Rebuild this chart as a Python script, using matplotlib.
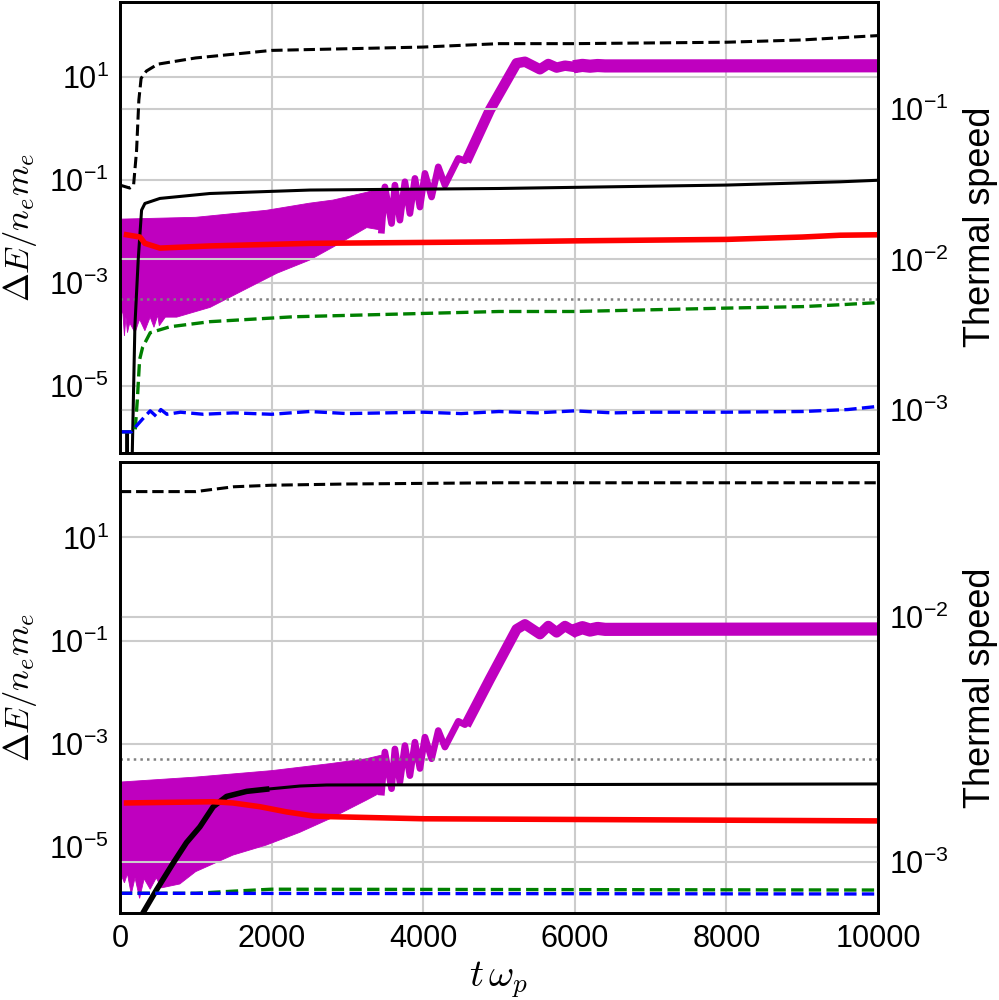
import matplotlib
matplotlib.use("Agg")
import matplotlib.pyplot as plt
from matplotlib.ticker import NullLocator, FixedLocator

# ---------------- top panel ----------------
# field energy (left axis): early oscillation band, drawn as a filled envelope
top_env_up_t = [0, 1000, 1935, 2500, 2810, 3255, 3451]
top_env_up_v = [0.0175, 0.019, 0.026, 0.0357, 0.041, 0.058, 0.070]
top_env_lo_t = [0, 40, 60, 80, 100, 130, 200, 260, 330, 400, 450, 500, 520, 600,
                750, 1190, 1630, 2070, 2500, 2810, 3255, 3451]
top_env_lo_v = [3.0e-4, 2.6e-4, 9.5e-5, 2.2e-4, 1.1e-4, 1.7e-4, 1.1e-4, 2.0e-4, 1.2e-4,
                2.2e-4, 1.4e-4, 2.4e-4, 1.5e-4, 2.2e-4, 2.2e-4, 3.4e-4, 7.3e-4, 1.56e-3,
                2.8e-3, 5.0e-3, 0.012, 0.0107]
# field energy: resolved oscillations, growth and saturation
top_mag_t = [3451, 3495, 3583, 3627, 3693, 3759, 3825, 3891, 3957, 4023, 4111, 4199,
             4287, 4463, 4551, 4595, 4880, 5232, 5342, 5540, 5650, 5760, 5870, 5980]
top_mag_v = [0.0107, 0.074, 0.0144, 0.080, 0.0167, 0.093, 0.0225, 0.108, 0.030, 0.135,
             0.047, 0.181, 0.080, 0.264, 0.237, 0.283, 2.29, 18.5, 19.8, 14.1, 17.9,
             15.2, 16.6, 15.8]
top_sat_t = [5980, 6100, 6200, 6300, 6400, 10000]
top_sat_v = [15.8, 16.8, 16.2, 16.7, 16.4, 16.5]

# thermal speeds (right axis)
top_kd_t = [0, 130, 180, 220, 250, 280, 350, 500, 1000, 2000, 4000, 5000, 6000, 8000,
            9000, 9500, 10000]
top_kd_v = [0.0313, 0.0299, 0.031, 0.053, 0.115, 0.161, 0.18, 0.20, 0.22, 0.247, 0.26,
            0.274, 0.274, 0.28, 0.29, 0.30, 0.31]
top_ks_t = [0, 80, 95, 110, 154, 198, 242, 286, 330, 528, 1187, 2506, 5000, 8000, 9500,
            10000]
top_ks_v = [1e-4, 1e-4, 7e-4, 1e-4, 3e-4, 3.6e-3, 0.010, 0.0213, 0.0236, 0.0255, 0.0275,
            0.029, 0.0297, 0.0313, 0.0329, 0.0337]
top_red_t = [88, 264, 330, 528, 1187, 2506, 5000, 6000, 8000, 9000, 9500, 10000]
top_red_v = [0.0146, 0.0141, 0.0128, 0.0119, 0.0123, 0.0128, 0.0131, 0.0133, 0.0136,
             0.0141, 0.0145, 0.0146]
top_grn_t = [0, 200, 230, 260, 300, 400, 660, 1190, 2290, 5000, 6000, 8000, 9000, 9500,
             10000]
top_grn_v = [7.1e-4, 7.1e-4, 1.16e-3, 2.15e-3, 2.6e-3, 3.25e-3, 3.56e-3, 3.85e-3,
             4.15e-3, 4.5e-3, 4.5e-3, 4.74e-3, 4.85e-3, 4.99e-3, 5.16e-3]
top_blu_t = [0, 150, 230, 330, 400, 480, 540, 620, 800, 1100, 1500, 2000, 2500, 3000,
             4000, 4500, 5000, 5500, 6000, 6500, 7000, 8000, 9000, 9600, 10000]
top_blu_v = [7.1e-4, 7.1e-4, 7.9e-4, 9.0e-4, 9.8e-4, 9.0e-4, 1.0e-3, 9.3e-4, 9.6e-4,
             9.3e-4, 9.5e-4, 9.3e-4, 9.7e-4, 9.4e-4, 9.6e-4, 9.4e-4, 9.7e-4, 9.5e-4,
             9.8e-4, 9.5e-4, 9.6e-4, 9.6e-4, 9.7e-4, 1.0e-3, 1.05e-3]

# ---------------- bottom panel ----------------
bot_env_up_t = [0, 1000, 2000, 2770, 3250, 3451]
bot_env_up_v = [1.8e-4, 2.25e-4, 3.0e-4, 4.1e-4, 5.1e-4, 6.0e-4]
bot_env_lo_t = [0, 60, 100, 150, 200, 260, 320, 400, 480, 550, 790, 1000, 1490, 1930,
                2370, 2770, 3250, 3451]
bot_env_lo_v = [3.3e-6, 2.0e-6, 3.0e-6, 1.2e-6, 2.5e-6, 1.0e-6, 2.4e-6, 1.5e-6, 2.5e-6,
                1.6e-6, 1.9e-6, 3.3e-6, 6.9e-6, 1.08e-5, 1.9e-5, 3.5e-5, 8.0e-5, 1.15e-4]
bot_mag_t = [3451, 3495, 3583, 3627, 3693, 3759, 3825, 3891, 3957, 4023, 4111, 4199,
             4287, 4463, 4551, 4595, 4880, 5232, 5342, 5540, 5650, 5760, 5870, 5980]
bot_mag_v = [1.15e-4, 6.9e-4, 1.34e-4, 7.9e-4, 1.8e-4, 9.2e-4, 2.4e-4, 1.07e-3, 3.3e-4,
             1.34e-3, 5.1e-4, 1.8e-3, 8.6e-4, 2.72e-3, 2.34e-3, 2.8e-3, 0.0179, 0.166,
             0.207, 0.133, 0.192, 0.144, 0.192, 0.154]
bot_sat_t = [5980, 6100, 6200, 6300, 6400, 10000]
bot_sat_v = [0.154, 0.178, 0.160, 0.172, 0.165, 0.168]

bot_kd_t = [0, 1000, 1200, 1500, 2000, 3000, 5000, 10000]
bot_kd_v = [0.0324, 0.0324, 0.0330, 0.0339, 0.0344, 0.0348, 0.0352, 0.0352]
bot_ks_t = [0, 305, 484, 703, 879, 1055, 1231, 1407, 1671, 1935, 2375, 2726, 10000]
bot_ks_v = [3e-4, 6.2e-4, 7.7e-4, 9.9e-4, 1.2e-3, 1.39e-3, 1.68e-3, 1.85e-3, 1.94e-3,
            1.98e-3, 2.04e-3, 2.06e-3, 2.08e-3]
bot_red_t = [88, 1231, 1490, 1846, 2198, 2550, 2770, 4000, 10000]
bot_red_v = [1.74e-3, 1.76e-3, 1.74e-3, 1.68e-3, 1.60e-3, 1.54e-3, 1.53e-3, 1.50e-3,
             1.47e-3]
bot_grn_t = [0, 1000, 1500, 2000, 10000]
bot_grn_v = [7.45e-4, 7.45e-4, 7.6e-4, 7.74e-4, 7.68e-4]
bot_blu_t = [0, 10000]
bot_blu_v = [7.45e-4, 7.4e-4]

threshold = 5e-4
x_ticks = [0, 2000, 4000, 6000, 8000, 10000]

plt.rcParams["font.family"] = ["Liberation Sans", "DejaVu Sans"]

fig, (ax1, ax3) = plt.subplots(2, 1, figsize=(9.99, 10), dpi=100, sharex=True)
fig.subplots_adjust(left=0.120, right=0.879, top=0.998, bottom=0.087, hspace=0.022)

GRID = "#cccccc"


def style(ax):
    ax.set_yscale("log")
    ax.yaxis.set_minor_locator(NullLocator())
    ax.tick_params(length=0, labelsize=22, pad=8)
    for s in ax.spines.values():
        s.set_linewidth(2.0)
        s.set_color("black")


def panel(ax, up_t, up_v, lo_t, lo_v, mag_t, mag_v, sat_t, sat_v,
          kd, ks, red, grn, blu, ks_thick, rlim, rticks):
    style(ax)
    ax.grid(True, color=GRID, lw=1.5)
    ax.set_axisbelow(True)
    ax.fill(up_t + lo_t[::-1], up_v + lo_v[::-1], color="m", lw=0.6, ec="m")
    ax.plot(mag_t, mag_v, color="m", lw=4.8, solid_joinstyle="round")
    # growth phase and first bounces look thicker (fast oscillation under the line)
    ax.plot(mag_t[15:], mag_v[15:], color="m", lw=7.5, solid_joinstyle="round")
    ax.plot(sat_t, sat_v, color="m", lw=9.5, solid_capstyle="butt")
    ax.axhline(threshold, color="grey", ls=":", lw=1.8)
    ax.set_ylim(5.2e-7, 285)
    ax.yaxis.set_major_locator(FixedLocator([1e1, 1e-1, 1e-3, 1e-5]))
    ax.set_ylabel(r"$\Delta E/n_e m_e$", fontsize=25, math_fontfamily="cm")
    ax.yaxis.set_label_coords(-0.107, 0.5)

    tw = ax.twinx()
    style(tw)
    tw.grid(True, axis="y", color=GRID, lw=1.5)
    tw.set_axisbelow(True)
    tw.plot(kd[0], kd[1], "k--", lw=2.2)
    tw.plot(ks[0], ks[1], "k-", lw=2.2)
    if ks_thick:
        tw.plot(ks[0][:ks_thick], ks[1][:ks_thick], "k-", lw=4)
    tw.plot(red[0], red[1], "r-", lw=4)
    tw.plot(grn[0], grn[1], "g--", lw=2.4)
    tw.plot(blu[0], blu[1], "b--", lw=2.4)
    tw.set_ylim(*rlim)
    tw.yaxis.set_major_locator(FixedLocator(rticks))
    tw.yaxis.set_minor_locator(NullLocator())
    tw.set_ylabel("Thermal speed", fontsize=26)
    tw.yaxis.set_label_coords(1.112, 0.5)
    return tw


panel(ax1, top_env_up_t, top_env_up_v, top_env_lo_t, top_env_lo_v,
      top_mag_t, top_mag_v, top_sat_t, top_sat_v,
      (top_kd_t, top_kd_v), (top_ks_t, top_ks_v), (top_red_t, top_red_v),
      (top_grn_t, top_grn_v), (top_blu_t, top_blu_v), 0,
      (5.17e-4, 0.519), [1e-3, 1e-2, 1e-1])
panel(ax3, bot_env_up_t, bot_env_up_v, bot_env_lo_t, bot_env_lo_v,
      bot_mag_t, bot_mag_v, bot_sat_t, bot_sat_v,
      (bot_kd_t, bot_kd_v), (bot_ks_t, bot_ks_v), (bot_red_t, bot_red_v),
      (bot_grn_t, bot_grn_v), (bot_blu_t, bot_blu_v), 10,
      (6.19e-4, 0.0426), [1e-3, 1e-2])

ax3.set_xlim(0, 10000)
ax3.xaxis.set_major_locator(FixedLocator(x_ticks))
ax3.set_xlabel(r"$t\,\omega_p$", fontsize=28, math_fontfamily="cm", labelpad=4)
ax1.tick_params(axis="x", labelbottom=False)

fig.savefig("out.png", dpi=100)
